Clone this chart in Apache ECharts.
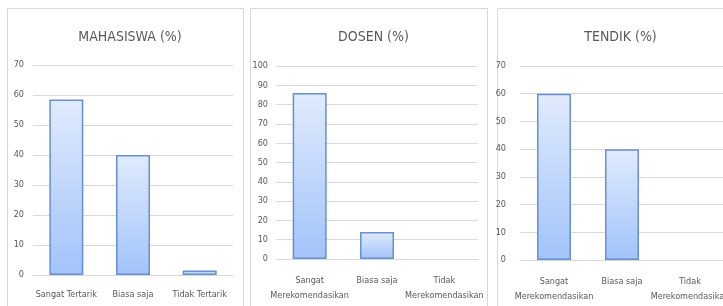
<!DOCTYPE html>
<html>
<head>
<meta charset="utf-8">
<script src="https://cdn.jsdelivr.net/npm/echarts@6/dist/echarts.min.js"></script>
<style>
    html, body { margin: 0; padding: 0; background: #fff; }
    #chart { width: 723px; height: 306px; }
</style>
</head>
<body>
<div id="chart"></div>
<script>
// data
const titles = ['MAHASISWA (%)', 'DOSEN (%)', 'TENDIK (%)'];
const catMahasiswa = ['Sangat Tertarik', 'Biasa saja', 'Tidak Tertarik'];
const catRekomendasi = ['Sangat\nMerekomendasikan', 'Biasa saja', 'Tidak\nMerekomendasikan'];
const mahasiswa = [58.5, 40, 1.5];
const dosen = [86, 14, 0];
const tendik = [60, 40, 0];
const yMax = [70, 100, 70];

const font = '"Liberation Sans Narrow", "DejaVu Sans Condensed", "Liberation Sans", sans-serif';
const textColor = '#595959';
const lineColor = '#d9d9d9';

// panel layout: [frameLeft, frameRight, gridLeft, gridWidth, gridTop, gridBottomY, yLabelMargin, xLabelMargin]
const panels = [
    [7, 243, 33, 200, 65, 275, 9, 12],
    [250, 487, 276, 202, 66, 259, 8, 14],
    [497, 740, 520, 204, 66, 260, 14, 14]
];
const categories = [catMahasiswa, catRekomendasi, catRekomendasi];
const values = [mahasiswa, dosen, tendik];

let chart = echarts.init(document.getElementById('chart'), null, { renderer: 'canvas' });

const barFill = new echarts.graphic.LinearGradient(0, 0, 0, 1, [
    { offset: 0, color: '#e0ebfd' },
    { offset: 1, color: '#a2c3fa' }
]);

const option = {
    backgroundColor: '#fff',
    animation: false,
    title: panels.map((p, i) => ({
        text: titles[i],
        left: (p[0] + p[1]) / 2 + (i === 2 ? -3 : 0),
        top: 25,
        textAlign: 'center',
        textStyle: { fontFamily: font, fontSize: 14, fontWeight: 'normal', color: textColor }
    })),
    graphic: panels.map(p => ({
        type: 'rect',
        shape: { x: p[0] + 0.5, y: 8.5, width: p[1] - p[0], height: 320 },
        style: { fill: 'none', stroke: lineColor, lineWidth: 1 },
        silent: true
    })),
    grid: panels.map(p => ({
        left: p[2],
        width: p[3],
        top: p[4],
        height: p[5] - p[4],
        containLabel: false,
        outerBoundsMode: 'none'
    })),
    xAxis: panels.map((p, i) => ({
        type: 'category',
        gridIndex: i,
        data: categories[i],
        axisLine: { lineStyle: { color: lineColor, width: 1 } },
        axisTick: { show: false },
        axisLabel: {
            interval: 0,
            margin: p[7],
            fontFamily: font,
            fontSize: 9,
            color: textColor,
            lineHeight: 15,
            verticalAlign: 'top',
            hideOverlap: false
        }
    })),
    yAxis: panels.map((p, i) => ({
        type: 'value',
        gridIndex: i,
        min: 0,
        max: yMax[i],
        interval: 10,
        axisLine: { show: false },
        axisTick: { show: false },
        splitLine: { lineStyle: { color: lineColor, width: 1 } },
        axisLabel: { margin: p[6], fontFamily: font, fontSize: 9, color: textColor }
    })),
    series: values.map((v, i) => ({
        type: 'bar',
        xAxisIndex: i,
        yAxisIndex: i,
        barWidth: 34,
        data: v.map(d => ({
            value: d,
            itemStyle: { color: barFill, borderColor: '#6790d2', borderWidth: d > 0 ? 1.5 : 0 }
        }))
    }))
};

chart.setOption(option);
</script>
</body>
</html>
